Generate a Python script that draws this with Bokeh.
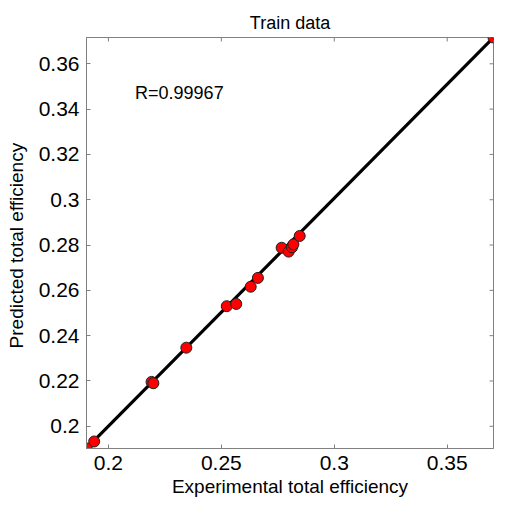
import math
from bokeh.plotting import figure
from bokeh.models import Range1d, FixedTicker, ColumnDataSource
from bokeh.core.properties import value
from bokeh.embed import file_html
from bokeh.resources import INLINE

# Data
exp_eff = [0.1904, 0.1937, 0.2191, 0.2199, 0.2345, 0.2524, 0.2566, 0.2630,
           0.2662, 0.2767, 0.2798, 0.2813, 0.2819, 0.2847, 0.3705]
pred_eff = [0.1902, 0.1933, 0.2196, 0.2190, 0.2347, 0.2530, 0.2540, 0.2616,
            0.2655, 0.2788, 0.2771, 0.2790, 0.2803, 0.2840, 0.3716]
fit_x = [0.1903, 0.3705]
fit_y = [0.1903, 0.3716]
x_ticks = [0.2, 0.25, 0.3, 0.35]
x_tick_labels = ["0.2", "0.25", "0.3", "0.35"]
y_ticks = [0.2, 0.22, 0.24, 0.26, 0.28, 0.3, 0.32, 0.34, 0.36]
y_tick_labels = ["0.2", "0.22", "0.24", "0.26", "0.28", "0.3", "0.32", "0.34", "0.36"]
r_text = "R=0.99967"
r_pos = (0.2118, 0.3473)
x_lim = (0.1903, 0.3705)
y_lim = (0.1902, 0.3716)

FONT = "Liberation Sans"
AX = "#808080"

p = figure(width=494, height=502, output_backend="svg", toolbar_location=None,
           x_range=Range1d(*x_lim), y_range=Range1d(*y_lim),
           min_border_left=86, min_border_right=1, min_border_top=37,
           min_border_bottom=54, title="Train data")
p.title.align = "center"
p.title.text_font = FONT
p.title.text_font_size = "18px"
p.title.text_font_style = "normal"
p.title.text_color = "black"

p.grid.visible = False
p.outline_line_color = AX
p.background_fill_color = "white"
p.border_fill_color = "white"

for ax, ticks, labels in ((p.xaxis[0], x_ticks, x_tick_labels), (p.yaxis[0], y_ticks, y_tick_labels)):
    ax.ticker = FixedTicker(ticks=ticks)
    ax.major_label_overrides = {t: l for t, l in zip(ticks, labels)}
    ax.major_tick_in = 4
    ax.major_tick_out = 0
    ax.minor_tick_in = 0
    ax.minor_tick_out = 0
    ax.axis_line_color = AX
    ax.major_tick_line_color = AX
    ax.major_label_text_font = FONT
    ax.major_label_text_font_size = "21px"
    ax.major_label_text_color = "black"
    ax.axis_label_text_font = FONT
    ax.axis_label_text_font_size = "19px"
    ax.axis_label_text_font_style = "normal"
    ax.axis_label_text_color = "black"

p.xaxis[0].axis_label = "Experimental total efficiency"
p.yaxis[0].axis_label = "Predicted  total efficiency"
p.xaxis[0].major_label_standoff = 7
p.xaxis[0].axis_label_standoff = 3
p.yaxis[0].major_label_standoff = 7
p.yaxis[0].axis_label_standoff = 9

# inward ticks on the top and right edges of the box
p.ray(x=x_ticks, y=[y_lim[1]] * len(x_ticks), length=4, length_units="screen",
      angle=-math.pi / 2, line_color=AX, line_width=1)
p.ray(x=[x_lim[1]] * len(y_ticks), y=y_ticks, length=4, length_units="screen",
      angle=math.pi, line_color=AX, line_width=1)

p.line(fit_x, fit_y, line_color="black", line_width=3.2)
src = ColumnDataSource(dict(x=exp_eff, y=pred_eff))
p.scatter("x", "y", source=src, size=11, fill_color="#ff0000", line_color="#202020", line_width=1)

p.text(x=[r_pos[0]], y=[r_pos[1]], text=[r_text], text_font=value(FONT), text_font_size="18px",
       text_baseline="middle", text_align="left", text_color="black")

open("out.html", "w").write(file_html(p, INLINE))
